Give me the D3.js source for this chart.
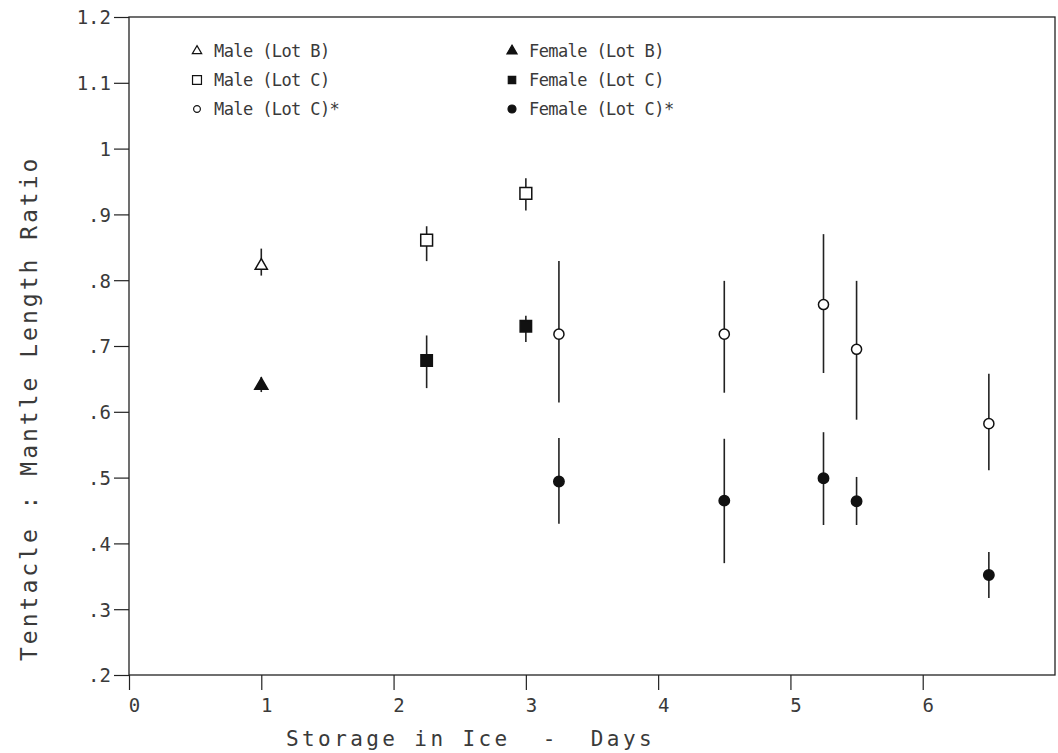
<!DOCTYPE html>
<html>
<head>
<meta charset="utf-8">
<script src="https://cdn.jsdelivr.net/npm/d3@7"></script>
<style>
  body { margin: 0; background: #fff; }
  svg { display: block; }
  text { font-family: "DejaVu Sans Mono", "Liberation Mono", monospace; fill: #3a3a3a; }
</style>
</head>
<body>
<script>
// storage days and tentacle : mantle length ratio
const daysB = [1];
const maleLotB = [0.822], maleLotBLo = [0.807], maleLotBHi = [0.848];
const femaleLotB = [0.640], femaleLotBLo = [0.630], femaleLotBHi = [0.653];

const daysC = [2.25, 3];
const maleLotC = [0.861, 0.932], maleLotCLo = [0.829, 0.906], maleLotCHi = [0.882, 0.955];
const femaleLotC = [0.678, 0.730], femaleLotCLo = [0.636, 0.706], femaleLotCHi = [0.716, 0.746];

const daysCStar = [3.25, 4.5, 5.25, 5.5, 6.5];
const maleLotCStar = [0.718, 0.718, 0.763, 0.695, 0.582];
const maleLotCStarLo = [0.614, 0.629, 0.659, 0.588, 0.511];
const maleLotCStarHi = [0.829, 0.799, 0.870, 0.799, 0.658];
const femaleLotCStar = [0.494, 0.465, 0.499, 0.464, 0.352];
const femaleLotCStarLo = [0.430, 0.370, 0.428, 0.428, 0.317];
const femaleLotCStarHi = [0.560, 0.559, 0.569, 0.501, 0.387];

const xTicks = [0, 1, 2, 3, 4, 5, 6];
const yTicks = [0.2, 0.3, 0.4, 0.5, 0.6, 0.7, 0.8, 0.9, 1.0, 1.1, 1.2];

const legendLabels = ["Male (Lot B)", "Male (Lot C)", "Male (Lot C)*",
                      "Female (Lot B)", "Female (Lot C)", "Female (Lot C)*"];

function main() {
    const width = 1058, height = 753;
    const left = 129, right = 1055, top = 17, bottom = 675;

    const x = d3.scaleLinear().domain([0, 7]).range([left, right]);
    const y = d3.scaleLinear().domain([0.2, 1.2]).range([bottom, top]);

    const svg = d3.select("body").append("svg")
        .attr("width", width)
        .attr("height", height);

    const zip = (days, mean, lo, hi) => days.map((d, i) => ({ day: d, mean: mean[i], lo: lo[i], hi: hi[i] }));

    const series = [
        { data: zip(daysB, maleLotB, maleLotBLo, maleLotBHi), shape: d3.symbolTriangle, size: 64, fill: false },
        { data: zip(daysC, maleLotC, maleLotCLo, maleLotCHi), shape: d3.symbolSquare, size: 140, fill: false },
        { data: zip(daysCStar, maleLotCStar, maleLotCStarLo, maleLotCStarHi), shape: d3.symbolCircle, size: 80, fill: false },
        { data: zip(daysB, femaleLotB, femaleLotBLo, femaleLotBHi), shape: d3.symbolTriangle, size: 75, fill: true },
        { data: zip(daysC, femaleLotC, femaleLotCLo, femaleLotCHi), shape: d3.symbolSquare, size: 130, fill: true },
        { data: zip(daysCStar, femaleLotCStar, femaleLotCStarLo, femaleLotCStarHi), shape: d3.symbolCircle, size: 85, fill: true }
    ];

    // frame
    svg.append("rect")
        .attr("x", left).attr("y", top)
        .attr("width", right - left).attr("height", bottom - top)
        .attr("fill", "none")
        .attr("stroke", "#222")
        .attr("stroke-width", 1.3);

    const fmtY = d => d < 0.95 ? "." + Math.round(d * 10) : String(+d.toFixed(1));

    const yAxis = svg.append("g")
        .attr("transform", `translate(${left},0)`)
        .call(d3.axisLeft(y).tickValues(yTicks).tickSize(15).tickFormat(fmtY));
    yAxis.select(".domain").remove();
    yAxis.selectAll("line").attr("stroke", "#222").attr("stroke-width", 1.2);
    yAxis.selectAll("text")
        .attr("x", -18)
        .attr("dy", "0.36em")
        .style("font-size", "19px");

    const xAxis = svg.append("g")
        .attr("transform", `translate(0,${bottom})`)
        .call(d3.axisBottom(x).tickValues(xTicks).tickSize(15).tickFormat(d3.format("d")));
    xAxis.select(".domain").remove();
    xAxis.selectAll("line").attr("stroke", "#222").attr("stroke-width", 1.2);
    xAxis.selectAll("text")
        .attr("x", 5)
        .attr("y", 37)
        .attr("dy", 0)
        .style("font-size", "19px");

    // axis titles
    svg.append("text")
        .attr("x", 286)
        .attr("y", 746)
        .style("font-size", "21px")
        .style("letter-spacing", "3.4px")
        .attr("xml:space", "preserve")
        .text("Storage in Ice  -  Days");

    svg.append("text")
        .attr("transform", "translate(37,661) rotate(-90)")
        .style("font-size", "23px")
        .style("letter-spacing", "3px")
        .text("Tentacle : Mantle Length Ratio");

    // error bars + markers
    series.forEach(s => {
        const g = svg.append("g");
        g.selectAll("line")
            .data(s.data)
            .join("line")
            .attr("x1", d => x(d.day)).attr("x2", d => x(d.day))
            .attr("y1", d => y(d.lo)).attr("y2", d => y(d.hi))
            .attr("stroke", "#222")
            .attr("stroke-width", 1.6);
        g.selectAll("path")
            .data(s.data)
            .join("path")
            .attr("transform", d => `translate(${x(d.day)},${y(d.mean)})`)
            .attr("d", d3.symbol().type(s.shape).size(s.size))
            .attr("fill", s.fill ? "#111" : "#fff")
            .attr("stroke", "#111")
            .attr("stroke-width", 1.5);
    });

    // legend
    const legendSizes = [38, 80, 36, 45, 55, 50];
    const legend = svg.append("g");
    series.forEach((s, i) => {
        const col = i < 3 ? 0 : 1;
        const row = i % 3;
        const sx = col === 0 ? 197 : 512;
        const sy = 51 + row * 29;
        legend.append("path")
            .attr("transform", `translate(${sx},${sy})`)
            .attr("d", d3.symbol().type(s.shape).size(legendSizes[i]))
            .attr("fill", s.fill ? "#111" : "#fff")
            .attr("stroke", "#111")
            .attr("stroke-width", 1.2);
        legend.append("text")
            .attr("x", sx + 17)
            .attr("y", sy + 6)
            .style("font-size", "17px")
            .style("letter-spacing", "-0.6px")
            .text(legendLabels[i]);
    });
}

addEventListener("DOMContentLoaded", main);
</script>
</body>
</html>
